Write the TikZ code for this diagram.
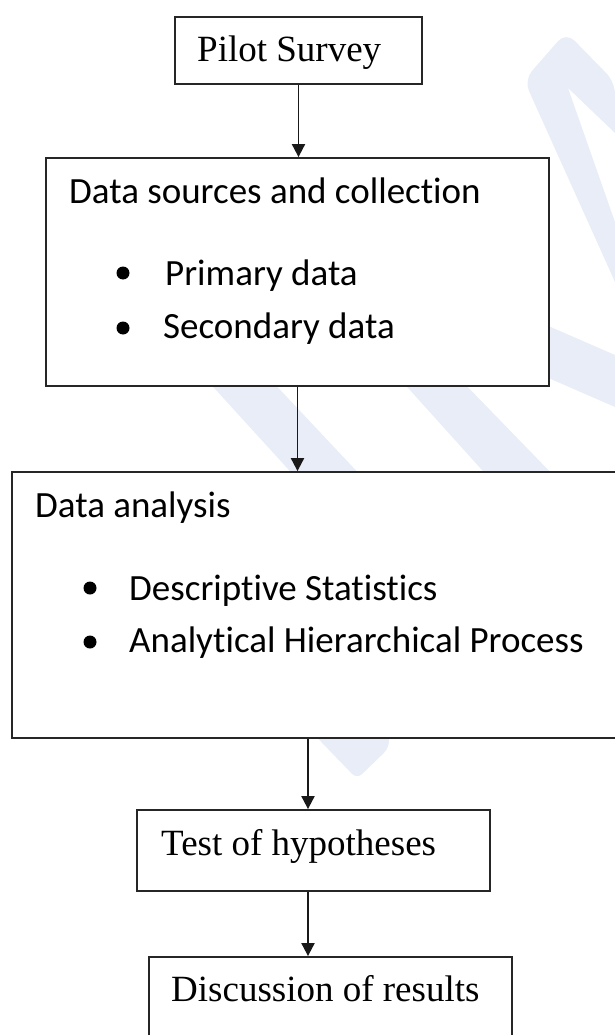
\documentclass[tikz,border=0pt]{standalone}
\usepackage{fontspec}
\setmainfont{Liberation Serif}
\newfontfamily\calibri[Ligatures=NoCommon]{Carlito}
\usetikzlibrary{arrows.meta}
\definecolor{wasserzeichen}{RGB}{232,237,247}
\tikzset{
	kasten/.style={draw=black!85, line width=1.8pt, fill=white, inner sep=0},
	pfeil/.style={draw=black!90, line width=1.9pt, -{Triangle[width=13pt,length=13pt]}},
	serif/.style={anchor=base west, inner sep=0, font=\fontsize{37}{44}\selectfont},
	sans/.style={anchor=base west, inner sep=0, font=\calibri\fontsize{37}{44}\selectfont},
	punkt/.style={circle, fill=black, inner sep=0, minimum size=13pt}
}
\begin{document}
\begin{tikzpicture}[x=1pt, y=-1pt]
	\path[use as bounding box, clip] (0,0) rectangle (615,1035);
	% Wasserzeichen im Hintergrund
	\fill[wasserzeichen, rounded corners=12pt] (615,282) -- (524,80) -- (566,32) -- (615,82)
		[sharp corners] -- (615,133) -- (568,88) -- (615,222) -- cycle;
	\fill[wasserzeichen] (530,318) -- (615,355) -- (615,407) -- (530,370) -- cycle;
	\fill[wasserzeichen] (205,378) -- (269,378) -- (365,480) -- (298,480) -- cycle;
	\fill[wasserzeichen] (399,378) -- (459,378) -- (558,480) -- (491,480) -- cycle;
	\fill[wasserzeichen, rounded corners=7pt] (300,720) -- (357,779) -- (389,748) -- (389,720) -- cycle;

	% Kaesten
	\node[kasten, minimum width=247pt, minimum height=67pt] (pilot) at (298.5,50.5) {};
	\node[kasten, minimum width=503pt, minimum height=228pt] (daten) at (297.5,272) {};
	\node[kasten, minimum width=606pt, minimum height=266pt] (analyse) at (315,605) {};
	\node[kasten, minimum width=353pt, minimum height=81pt] (test) at (313.5,850.5) {};
	\node[kasten, minimum width=363pt, minimum height=88pt] (diskussion) at (330.5,1001) {};

	% Texte
	\node[serif] (pilottext) at (197,62) {Pilot Survey};
	\node[sans] (datentext) at (69,203) {Data sources and collection};
	\node[punkt] (p1) at (123,273) {};
	\node[sans] (primaer) at (165,285) {Primary data};
	\node[punkt] (p2) at (123,328) {};
	\node[sans] (sekundaer) at (163,338) {Secondary data};
	\node[sans] (analysetext) at (35,517) {Data analysis};
	\node[punkt] (p3) at (90,588) {};
	\node[sans] (deskriptiv) at (129,600) {Descriptive Statistics};
	\node[punkt] (p4) at (90,642) {};
	\node[sans] (ahp) at (129,652) {Analytical Hierarchical Process};
	\node[serif] (testtext) at (161,855) {Test of hypotheses};
	\node[serif] (diskussiontext) at (171,1001) {Discussion of results};

	% Pfeile
	\draw[pfeil] (pilot.south) -- (pilot.south |- daten.north);
	\draw[pfeil] (daten.south) -- (daten.south |- analyse.north);
	\draw[pfeil] ([xshift=-5.5pt]test.north |- analyse.south) -- ([xshift=-5.5pt]test.north);
	\draw[pfeil] ([xshift=-5.5pt]test.south) -- ([xshift=-5.5pt]test.south |- diskussion.north);
\end{tikzpicture}
\end{document}
